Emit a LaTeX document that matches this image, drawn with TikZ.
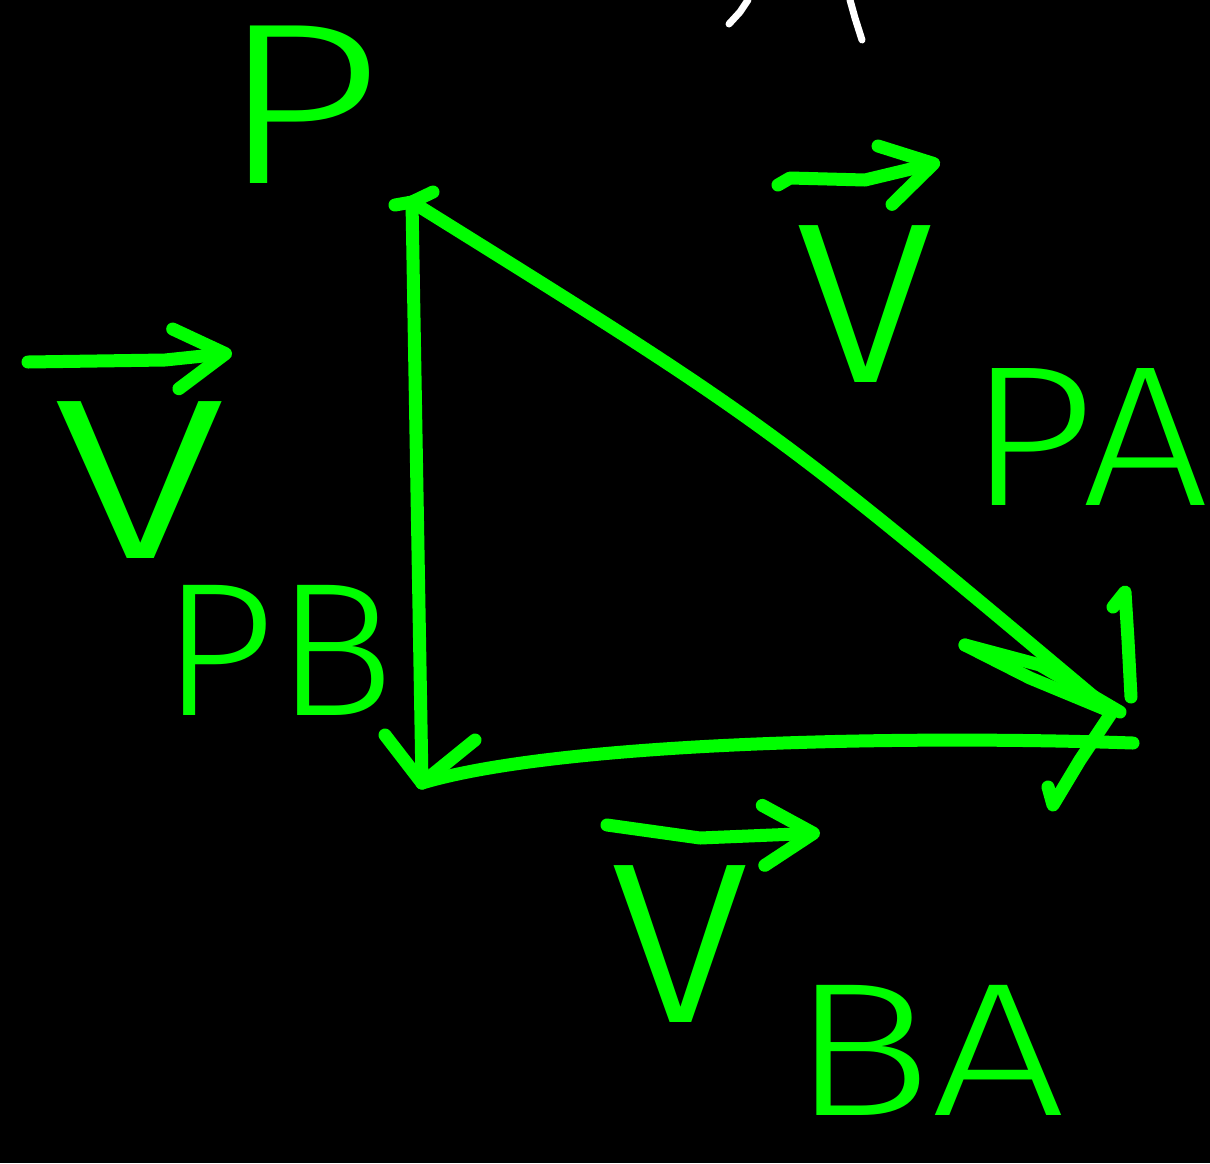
\documentclass[tikz,border=0pt]{standalone}
\usepackage{fontspec}
\setmainfont{Fira Sans Light}
\usetikzlibrary{arrows.meta}
\definecolor{pen}{RGB}{0,255,0}
\begin{document}
\begin{tikzpicture}[x=1pt,y=-1pt,
  stroke/.style={draw=pen,line width=13pt,line cap=round,line join=round},
  vecarrow/.style={stroke,-{Straight Barb[length=50pt,width=60pt,line cap=round,line join=round]}},
  bigtxt/.style={text=pen,inner sep=0pt,anchor=base,font=\fontsize{230}{230}\selectfont},
  vtxt/.style={text=pen,inner sep=0pt,anchor=base,font=\fontsize{300}{300}\selectfont},
  subtxt/.style={text=pen,inner sep=0pt,anchor=base,font=\fontsize{200}{200}\selectfont}]
\useasboundingbox[fill=black] (0,0) rectangle (1210,1163);
% white marks at top
\draw[white,line width=7pt,line cap=round] (748,0) -- (740,12) -- (729,24);
\draw[white,line width=7pt,line cap=round] (850,0) -- (855,18) -- (862,40);
% vertices
\coordinate (P) at (412,202);
\coordinate (B) at (422,783);
\coordinate (A) at (1112,712);
\coordinate (A2) at (1133,743);
% triangle edges
\draw[stroke] (P) -- (B);
\draw[stroke] (P) .. controls (770,425) .. (A);
\draw[stroke] (B) .. controls (560,742) and (900,735) .. (A2);
\draw[stroke] (395,205) -- (P) -- (433,192);
% head P->B
\coordinate (hb1) at (385,735);
\coordinate (hb2) at (475,740);
\draw[stroke] (hb1) -- (B) -- (hb2);
% head P->A
\coordinate (ha1) at (965,645);
\coordinate (ha2) at (1113,607);
\draw[stroke] (ha1) -- (1030,678) -- (A);
\draw[stroke] (ha1) -- (1040,665) -- (1120,712);
\draw[stroke] (ha2) -- (1125,592) -- (1128,640) -- (1131,697);
% head B->A
\coordinate (hc1) at (1053,805);
\draw[stroke] (A) -- (1080,760) -- (hc1) -- (1048,787);
% labels
\node[bigtxt] (lP) at (300,183) {\scalebox{1.25}[1]{P}};
% v_PA
\coordinate (pa1) at (778,185);
\coordinate (pa2) at (940,162);
\draw[vecarrow] (pa1) -- (790,178) -- (865,180) -- (pa2);
\node[vtxt] (vPA) at (865,382) {v};
\node[subtxt] (sPA) at (1088,505) {\scalebox{1.12}[1]{PA}};
% v_PB
\coordinate (pb1) at (28,362);
\coordinate (pb2) at (232,353);
\draw[vecarrow] (pb1) -- (165,360) -- (pb2);
\node[vtxt] (vPB) at (140,558) {\scalebox{1.25}[1]{v}};
\node[subtxt,font=\fontsize{190}{190}\selectfont] (sPB) at (278,715) {\scalebox{1.05}[1]{PB}};
% v_BA
\coordinate (ba1) at (607,825);
\coordinate (ba2) at (820,833);
\draw[vecarrow] (ba1) -- (700,838) -- (ba2);
\node[vtxt] (vBA) at (680,1022) {v};
\node[subtxt,font=\fontsize{190}{190}\selectfont] (sBA) at (928,1115) {\scalebox{1.25}[1]{BA}};
\end{tikzpicture}
\end{document}
